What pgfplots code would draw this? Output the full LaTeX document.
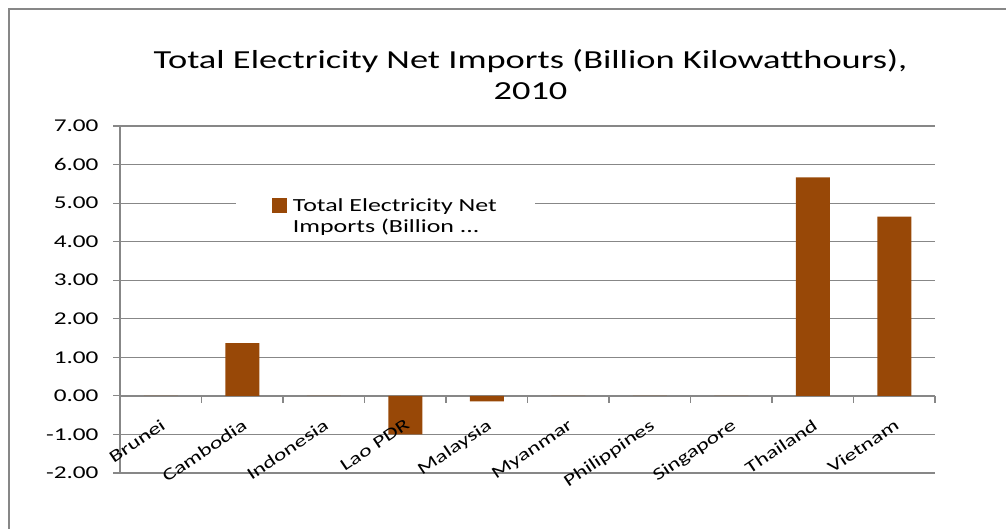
\documentclass[border=0pt]{standalone}
\usepackage{fontspec}
\setmainfont[FakeStretch=1.4]{Carlito}
\usepackage{pgfplots}
\pgfplotsset{compat=1.18}
\definecolor{barc}{HTML}{984807}
\definecolor{gridc}{HTML}{878787}
\pgfplotsset{common/.style={
  at={(120pt,56pt)}, anchor=south west,
  scale only axis, width=815pt, height=347pt,
  xmin=-0.5, xmax=9.5, ymin=-2, ymax=7,
  axis x line*=middle, axis y line*=left,
  hide obscured x ticks=false,
  xtick={-0.5,0.5,1.5,2.5,3.5,4.5,5.5,6.5,7.5,8.5,9.5},
  x tick label as interval,
}}
\begin{document}
\begin{tikzpicture}[x=1pt,y=1pt]
\useasboundingbox (0,0) rectangle (1006,529);
\draw[gridc, line width=1.5pt] (9,0) -- (9,520) -- (1006,520);
\node[anchor=base, font=\fontsize{26}{30}\selectfont] at (530.5,460.7) {Total Electricity Net Imports (Billion Kilowatthours),};
\node[anchor=base, font=\fontsize{26}{30}\selectfont] at (530.5,429) {2010};
\begin{axis}[
  common,
  ytick={-2,-1,0,1,2,3,4,5,6,7},
  yticklabels={-2.00,-1.00,0.00,1.00,2.00,3.00,4.00,5.00,6.00,7.00},
  xticklabels={},
  ytick align=outside, xtick align=center,
  major tick length=7pt,
  ymajorgrids, grid style={gridc, line width=1.2pt},
  axis line style={gridc, line width=1.5pt, -},
  ytick style={gridc, line width=1.2pt},
  xtick style={gridc, line width=1.4pt, yshift=-3.5pt},
  yticklabel style={font=\fontsize{18}{20}\selectfont, xshift=-11pt},
  legend style={at={(0.142,0.6686)}, anchor=south west, draw=none, fill=white,
    cells={align=left}, font=\fontsize{18.5}{21}\selectfont, inner xsep=36pt, inner ysep=5pt},
  legend image code/.code={\fill[barc] (0pt,3.5pt) rectangle (15pt,18.5pt);},
]
\addplot[ybar, bar width=34pt, fill=barc, draw=none] coordinates {
  (0,0) (1,1.37) (2,0) (3,-1.0) (4,-0.14) (5,0) (6,0) (7,0) (8,5.67) (9,4.65)};
\addlegendentry{\hspace{4pt}Total Electricity Net\\\hspace{4pt}Imports (Billion ...}
\end{axis}
\begin{axis}[
  common,
  ytick=\empty,
  axis line style={draw=none},
  major tick length=0pt,
  xticklabels={Brunei,Cambodia,Indonesia,Lao PDR,Malaysia,Myanmar,Philippines,Singapore,Thailand,Vietnam},
  xticklabel style={font=\fontsize{17}{19}\selectfont, rotate=34, anchor=north east, inner sep=0pt, xshift=-13pt, yshift=-18pt},
]
\end{axis}
\end{tikzpicture}
\end{document}
